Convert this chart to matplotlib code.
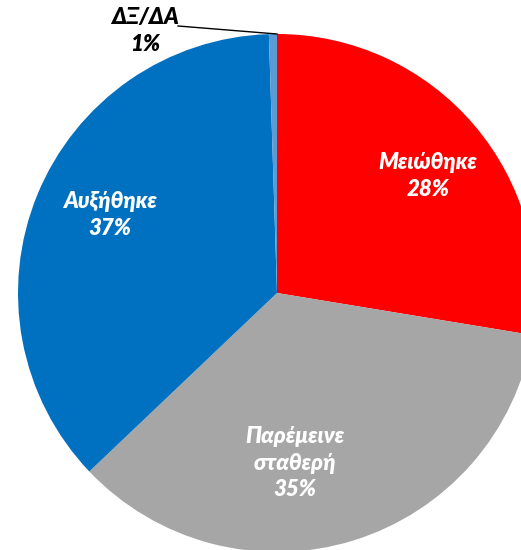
import matplotlib
matplotlib.use("Agg")
import matplotlib.pyplot as plt

# Survey answers (percent) in clockwise order from 12 o'clock
categories = ["Μειώθηκε", "Παρέμεινε\nσταθερή", "Αυξήθηκε", "ΔΞ/ΔΑ"]
shares = [27.6, 35.3, 36.6, 0.5]
colors = ["#FF0000", "#A6A6A6", "#0070C0", "#5B9BD5"]

W, H = 521, 550
fig = plt.figure(figsize=(W / 100, H / 100), dpi=100)
ax = fig.add_axes([0, 0, 1, 1])

center = (277, H - 293)
radius = 259
wedges, _ = ax.pie(shares, colors=colors, startangle=90, counterclock=False,
                   center=center, radius=radius,
                   wedgeprops=dict(linewidth=0))
ax.set_xlim(0, W)
ax.set_ylim(0, H)
ax.set_aspect("equal")
ax.axis("off")

font = dict(family=["Lato", "DejaVu Sans"], fontweight="heavy",
            fontstyle="italic", fontsize=16)


def pct(v):
    return f"{int(v + 0.5)}%"


# label anchor points (pixel coords from top-left)
label_pos = [(428, 176), (295, 463), (110, 215), (145, 31)]
label_col = ["white", "white", "white", "black"]
for name, v, (x, y), c in zip(categories, shares, label_pos, label_col):
    ax.text(x, H - y, f"{name}\n{pct(v)}", ha="center", va="center",
            color=c, linespacing=1.3, **font)

# leader line for the tiny slice
ax.plot([178, 277], [H - 26, H - 34], color="black", lw=1)

fig.savefig("out.png", dpi=100)
